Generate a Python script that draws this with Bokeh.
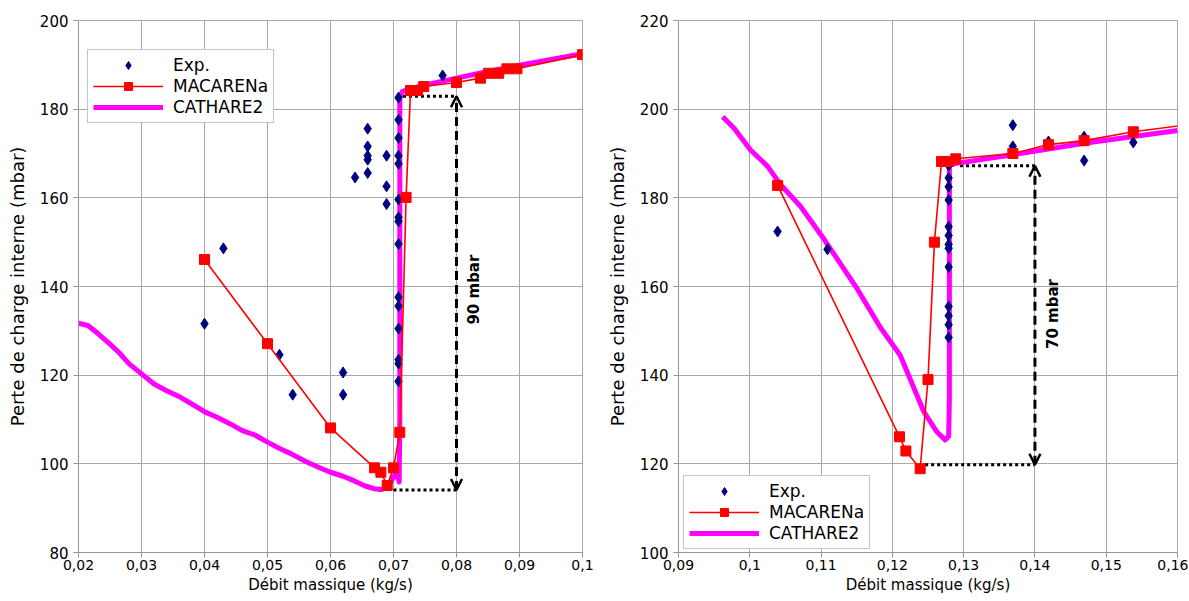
import math
from bokeh.plotting import figure
from bokeh.layouts import row
from bokeh.models import (FixedTicker, CustomJSTickFormatter, Legend, LegendItem,
                          Arrow, OpenHead, Label, Range1d)
from bokeh.embed import file_html
from bokeh.resources import INLINE

# ---------------- data : left chart ----------------
L_xticks = [0.02, 0.03, 0.04, 0.05, 0.06, 0.07, 0.08, 0.09, 0.10]
L_xlabels = ["0,02", "0,03", "0,04", "0,05", "0,06", "0,07", "0,08", "0,09", "0,1"]
L_yticks = [80, 100, 120, 140, 160, 180, 200]

L_exp_x = [0.0400, 0.0430, 0.0519, 0.0540, 0.0620, 0.0620, 0.0639,
           0.0659, 0.0659, 0.0659, 0.0659, 0.0659, 0.0689, 0.0689, 0.0689,
           0.0708, 0.0708, 0.0708, 0.0708, 0.0708, 0.0708, 0.0708, 0.0708,
           0.0708, 0.0708, 0.0708, 0.0708, 0.0708, 0.0708, 0.0708, 0.0778]
L_exp_y = [131.6, 148.6, 124.6, 115.6, 120.6, 115.6, 164.6,
           175.6, 171.6, 169.5, 168.6, 165.6, 169.5, 162.6, 158.6,
           182.6, 177.6, 173.5, 169.5, 167.7, 159.6, 155.6, 154.7,
           149.6, 137.6, 135.6, 130.5, 123.5, 122.6, 118.6, 187.6]

L_mac_x = [0.040, 0.050, 0.060, 0.067, 0.068, 0.069, 0.070, 0.071, 0.072, 0.0727,
           0.0738, 0.0748, 0.080, 0.0838, 0.0851, 0.0867, 0.088, 0.0896, 0.100]
L_mac_y = [146.1, 127.1, 108.1, 99.1, 98.1, 95.1, 99.1, 107.1, 160.1, 184.2,
           184.2, 185.1, 186.0, 187.0, 188.1, 188.1, 189.1, 189.1, 192.3]

L_cat_x = [0.0200, 0.0215, 0.0230, 0.0250, 0.0265, 0.0280, 0.0300, 0.0320, 0.0340,
           0.0362, 0.0380, 0.0402, 0.0420, 0.0441, 0.0460, 0.0480, 0.0500, 0.0520,
           0.0537, 0.0560, 0.0580, 0.0600, 0.0620, 0.0637, 0.0655, 0.0669, 0.0680,
           0.0690, 0.0698, 0.0705, 0.0709, 0.0710, 0.0710, 0.0714, 0.0745, 0.0800,
           0.0850, 0.0900, 0.0950, 0.1000]
L_cat_y = [131.7, 131.2, 129.5, 127.0, 125.0, 122.6, 120.3, 118.0, 116.5,
           115.0, 113.5, 111.6, 110.5, 109.0, 107.5, 106.5, 104.9, 103.4,
           102.3, 100.6, 99.3, 98.1, 97.2, 96.2, 95.0, 94.4, 94.2,
           94.6, 96.5, 98.2, 95.9, 110.0, 182.6, 184.0, 185.3, 187.0,
           188.5, 189.9, 191.2, 192.5]

# annotation (90 mbar)
L_ann_x = 0.080
L_ann_top = 182.9
L_ann_bot = 94.1
L_ann_top_from = 0.0715
L_ann_bot_from = 0.0700

# ---------------- data : right chart ----------------
R_xticks = [0.09, 0.10, 0.11, 0.12, 0.13, 0.14, 0.15, 0.16]
R_xlabels = ["0,09", "0,1", "0,11", "0,12", "0,13", "0,14", "0,15", "0,16"]
R_yticks = [100, 120, 140, 160, 180, 200, 220]

R_exp_x = [0.1039, 0.1109, 0.1279, 0.1279, 0.1279, 0.1279, 0.1279, 0.1279,
           0.1279, 0.1279, 0.1279, 0.1279, 0.1279, 0.1279, 0.1279,
           0.1369, 0.1369, 0.1419, 0.1469, 0.1469, 0.1538]
R_exp_y = [172.4, 168.4, 187.3, 184.5, 182.5, 179.5, 173.5, 171.5,
           169.5, 168.6, 164.4, 155.5, 153.4, 151.4, 148.5,
           196.4, 191.6, 192.7, 193.8, 188.4, 192.5]

R_mac_x = [0.1039, 0.1210, 0.1219, 0.1239, 0.1250, 0.1259, 0.1269, 0.1279,
           0.1289, 0.1369, 0.1419, 0.1469, 0.1538, 0.1620]
R_mac_y = [182.8, 126.1, 122.9, 118.9, 139.0, 170.0, 188.2, 188.2,
           188.8, 190.0, 192.0, 192.9, 194.9, 196.6]

R_cat_x = [0.0962, 0.0978, 0.1001, 0.1025, 0.1043, 0.1071, 0.1104, 0.1151,
           0.1183, 0.1211, 0.1244, 0.1262, 0.1274, 0.1279, 0.1280, 0.1280,
           0.1283, 0.1369, 0.1469, 0.1600]
R_cat_y = [198.3, 195.7, 190.8, 187.1, 183.0, 178.1, 170.7, 159.4,
           150.8, 144.5, 131.8, 127.3, 125.4, 126.2, 135.0, 187.3,
           187.6, 189.7, 192.3, 195.2]

R_ann_x = 0.140
R_ann_top = 187.25
R_ann_bot = 119.8
R_ann_top_from = 0.1295
R_ann_bot_from = 0.1246

FONT = "DejaVu Sans"
GRID = "#a8a8a8"
AXIS = "#969696"


def make_chart(width, height, xr, yr, xticks, xlabels, yticks, borders,
               ex, ey, mx, my, cx, cy, ann, ann_text, ann_label_pos, legend_loc):
    bl, br, bt, bb = borders
    p = figure(width=width, height=height, x_range=Range1d(*xr), y_range=Range1d(*yr),
               output_backend="svg", toolbar_location=None,
               min_border_left=bl, min_border_right=br,
               min_border_top=bt, min_border_bottom=bb)
    p.background_fill_color = "white"
    p.border_fill_color = "white"
    p.outline_line_color = GRID

    p.xaxis.ticker = FixedTicker(ticks=xticks)
    p.xaxis.formatter = CustomJSTickFormatter(
        args=dict(tvals=xticks, tlabels=xlabels),
        code="""
        for (let i = 0; i < tvals.length; i++) {
            if (Math.abs(tvals[i] - tick) < 1e-9) { return tlabels[i]; }
        }
        return '';
        """)
    p.yaxis.ticker = FixedTicker(ticks=yticks)
    for ax in (p.xaxis[0], p.yaxis[0]):
        ax.axis_line_color = AXIS
        ax.major_tick_line_color = AXIS
        ax.major_tick_in = 0
        ax.major_tick_out = 5
        ax.minor_tick_line_color = None
        ax.major_label_text_font = FONT
        ax.major_label_text_color = "black"
        ax.axis_label_text_font = FONT
        ax.axis_label_text_font_style = "normal"
        ax.axis_label_text_color = "black"
    p.xaxis.major_label_text_font_size = "14px"
    p.yaxis.major_label_text_font_size = "15px"
    p.xaxis.major_label_standoff = 2
    p.yaxis.major_label_standoff = 5
    p.xaxis.axis_label = "Débit massique (kg/s)"
    p.yaxis.axis_label = "Perte de charge interne (mbar)"
    p.xaxis.axis_label_text_font_size = "15px"
    p.yaxis.axis_label_text_font_size = "18px"
    p.xaxis.axis_label_standoff = 3
    p.yaxis.axis_label_standoff = 9
    p.xgrid.grid_line_color = GRID
    p.ygrid.grid_line_color = GRID
    p.xgrid.ticker = FixedTicker(ticks=xticks)
    p.ygrid.ticker = FixedTicker(ticks=yticks)

    # annotation lines
    ax_, top, bot, top_from, bot_from = ann
    p.line([top_from, ax_], [top, top], line_color="black", line_width=3, line_dash="3 3")
    p.line([bot_from, ax_], [bot, bot], line_color="black", line_width=3, line_dash="3 3")
    p.add_layout(Arrow(x_start=ax_, y_start=bot, x_end=ax_, y_end=top,
                       line_color="black", line_width=3, line_dash="9 5",
                       start=OpenHead(size=11, line_width=2.5, line_color="black"),
                       end=OpenHead(size=11, line_width=2.5, line_color="black")))
    p.add_layout(Label(x=ann_label_pos[0], y=ann_label_pos[1], text=ann_text,
                       angle=math.pi / 2, text_align="center", text_baseline="middle",
                       text_font=FONT, text_font_size="15px", text_font_style="bold",
                       text_color="black"))

    # series
    r_cat = p.line(cx, cy, line_color="#ff00ff", line_width=5, line_join="round")
    r_exp = p.scatter(ex, ey, marker="diamond", size=11, fill_color="#000080",
                      line_color="#000080")
    r_mac_l = p.line(mx, my, line_color="#ff0000", line_width=1.6)
    r_mac_s = p.scatter(mx, my, marker="square", size=10, fill_color="#ff0000",
                        line_color="#ff0000")

    legend = Legend(items=[
        LegendItem(label="Exp.", renderers=[r_exp]),
        LegendItem(label="MACARENa", renderers=[r_mac_l, r_mac_s]),
        LegendItem(label="CATHARE2", renderers=[r_cat]),
    ], location=legend_loc)
    legend.margin = 0
    legend.padding = 5
    legend.spacing = 1
    legend.glyph_width = 70
    legend.glyph_height = 20
    legend.label_height = 20
    legend.label_standoff = 10
    legend.label_text_font = FONT
    legend.label_text_font_size = "17px"
    legend.label_text_color = "black"
    legend.border_line_color = "#8c8c8c"
    legend.border_line_width = 1
    legend.background_fill_color = "white"
    legend.background_fill_alpha = 1.0
    p.add_layout(legend)
    return p


left = make_chart(600, 598, (0.02, 0.10), (80, 200), L_xticks, L_xlabels, L_yticks,
                  (78, 18, 20, 46),
                  L_exp_x, L_exp_y, L_mac_x, L_mac_y, L_cat_x, L_cat_y,
                  (L_ann_x, L_ann_top, L_ann_bot, L_ann_top_from, L_ann_bot_from),
                  "90 mbar", (0.0827, 139.3), (9, 429))

right = make_chart(588, 598, (0.09, 0.16), (100, 220), R_xticks, R_xlabels, R_yticks,
                   (78, 11, 20, 43),
                   R_exp_x, R_exp_y, R_mac_x, R_mac_y, R_cat_x, R_cat_y,
                   (R_ann_x, R_ann_top, R_ann_bot, R_ann_top_from, R_ann_bot_from),
                   "70 mbar", (0.1425, 153.8), (5, 3))

layout = row(left, right)
open("out.html", "w").write(file_html(layout, INLINE))
